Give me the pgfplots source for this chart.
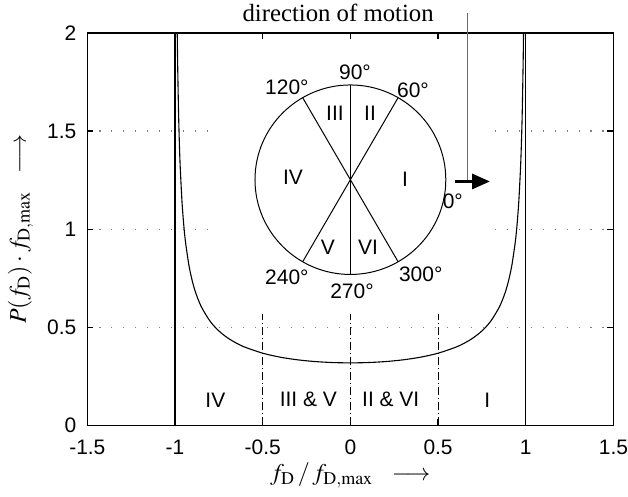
\documentclass[border=0pt]{standalone}
\usepackage{mathptmx}
\usepackage[no-math]{fontspec}
\setmainfont{Liberation Sans}
\newfontfamily\seriffont{Liberation Serif}
\usepackage{pgfplots}
\pgfplotsset{compat=1.18}
\usetikzlibrary{arrows.meta}
\pgfplotstableread{
x y
-0.9873 2.0
-0.985 1.8447
-0.98 1.5996
-0.975 1.4325
-0.97 1.3094
-0.96 1.1368
-0.95 1.0194
-0.94 0.9330
-0.92 0.8122
-0.90 0.7303
-0.88 0.6702
-0.85 0.6043
-0.80 0.5305
-0.75 0.4812
-0.70 0.4457
-0.65 0.4189
-0.60 0.3979
-0.50 0.3676
-0.40 0.3473
-0.30 0.3337
-0.20 0.3249
-0.10 0.3199
0.00 0.3183
0.10 0.3199
0.20 0.3249
0.30 0.3337
0.40 0.3473
0.50 0.3676
0.60 0.3979
0.65 0.4189
0.70 0.4457
0.75 0.4812
0.80 0.5305
0.85 0.6043
0.88 0.6702
0.90 0.7303
0.92 0.8122
0.94 0.9330
0.95 1.0194
0.96 1.1368
0.97 1.3094
0.975 1.4325
0.98 1.5996
0.985 1.8447
0.9873 2.0
}\curve
\begin{document}
\begin{tikzpicture}
\begin{axis}[
  scale only axis, width=263.5pt, height=196.5pt,
  xmin=-1.5, xmax=1.5, ymin=0, ymax=2,
  xtick={-1.5,-1,-0.5,0,0.5,1,1.5}, xticklabels={-1.5,-1,-0.5,0,0.5,1,1.5},
  ytick={0,0.5,1,1.5,2}, yticklabels={0,0.5,1,1.5,2},
  tick align=inside, major tick length=3pt,
  axis line style={line width=0.8pt},
  every tick/.style={black, line width=0.6pt},
  ticklabel style={font=\fontsize{10.5}{12}\selectfont},
  xticklabel style={yshift=-4pt},
  yticklabel style={xshift=-2pt},
  ymajorgrids,
  grid style={gray, line width=0.6pt, dash pattern=on 0.6pt off 5.4pt},
  clip=false,
  xlabel={$f_{\mathrm{D}}\,/\,f_{\mathrm{D,max}}\ \ \longrightarrow$},
  ylabel={$P(f_{\mathrm{D}})\cdot f_{\mathrm{D,max}}\ \ \longrightarrow$},
  label style={font=\fontsize{12}{14}\selectfont},
  xlabel style={at={(axis description cs:0.5,0)}, anchor=center, yshift=-25pt},
  ylabel style={at={(axis description cs:0,0.5)}, anchor=center, rotate=0, yshift=33.5pt},
]
\fill[white] (axis cs:-0.78,0.565) rectangle (axis cs:0.77,1.97);
\addplot[black, line width=0.5pt, dash pattern=on 4pt off 1.5pt on 0.5pt off 1.5pt] coordinates {(-0.5,0) (-0.5,0.565)};
\addplot[black, line width=0.5pt, dash pattern=on 4pt off 1.5pt on 0.5pt off 1.5pt] coordinates {(0,0) (0,0.565)};
\addplot[black, line width=0.5pt, dash pattern=on 4pt off 1.5pt on 0.5pt off 1.5pt] coordinates {(0.5,0) (0.5,0.565)};
\addplot[black, line width=0.6pt] coordinates {(-1,0) (-1,2)};
\addplot[black, line width=0.6pt] coordinates {(1,0) (1,2)};
\addplot[black, line width=0.55pt, smooth] table[x=x, y=y] {\curve};
% circle diagram
\draw[line width=0.5pt] (axis cs:0,1.252) ellipse [x radius=0.544, y radius=0.483];
\draw[line width=0.5pt] (axis cs:0.272,1.670) -- (axis cs:-0.272,0.834);
\draw[line width=0.5pt] (axis cs:-0.272,1.670) -- (axis cs:0.272,0.834);
\draw[line width=0.5pt] (axis cs:0,1.735) -- (axis cs:0,0.769);
\begin{scope}[every node/.style={font=\fontsize{10.5}{12}\selectfont, inner sep=0pt}]
\node at (axis cs:0.026,1.801) {90°};
\node at (axis cs:-0.362,1.725) {120°};
\node at (axis cs:0.357,1.710) {60°};
\node at (axis cs:0.584,1.140) {0°};
\node at (axis cs:-0.362,0.753) {240°};
\node at (axis cs:0.009,0.682) {270°};
\node at (axis cs:0.401,0.768) {300°};
\node at (axis cs:0.312,1.252) {I};
\node at (axis cs:0.112,1.593) {II};
\node at (axis cs:-0.088,1.593) {III};
\node at (axis cs:-0.327,1.262) {IV};
\node at (axis cs:-0.128,0.906) {V};
\node at (axis cs:0.100,0.906) {VI};
\node at (axis cs:-0.77,0.13) {IV};
\node at (axis cs:-0.24,0.13) {III \& V};
\node at (axis cs:0.23,0.13) {II \& VI};
\node at (axis cs:0.78,0.13) {I};
\end{scope}
\draw[gray!85!black, line width=0.6pt] (axis cs:0.667,2.102) -- (axis cs:0.667,1.243);
\draw[black, line width=1.6pt, -{Triangle[length=9pt, width=7.5pt]}] (axis cs:0.596,1.243) -- (axis cs:0.796,1.243);
\node[font=\seriffont\fontsize{12.4}{14}\selectfont, inner sep=0pt] at (axis cs:-0.07,2.104) {direction of motion};
\coordinate (bbbl) at (axis cs:-1.998,-0.361);
\coordinate (bbtr) at (axis cs:1.583,2.168);
\end{axis}
\pgfresetboundingbox
\path (bbbl) rectangle (bbtr);
\end{tikzpicture}
\end{document}
